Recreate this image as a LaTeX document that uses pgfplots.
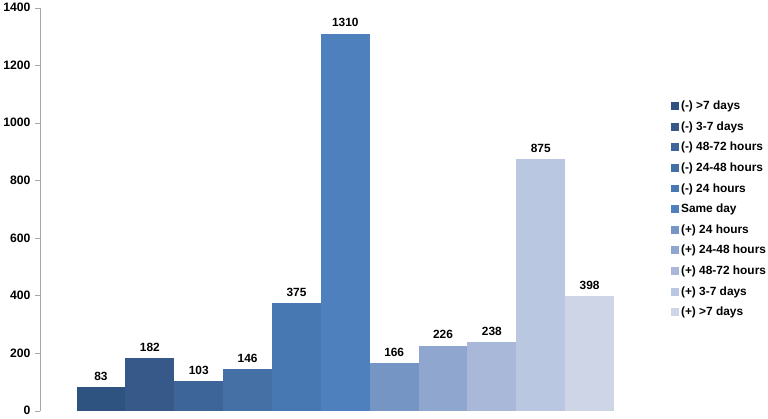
\documentclass[border=0pt]{standalone}
\usepackage{fontspec}
\setmainfont{Liberation Sans}
\usepackage{pgfplots}
\pgfplotsset{compat=1.18}

\definecolor{c1}{RGB}{47,83,128}
\definecolor{c2}{RGB}{54,89,138}
\definecolor{c3}{RGB}{61,101,154}
\definecolor{c4}{RGB}{68,112,166}
\definecolor{c5}{RGB}{72,120,178}
\definecolor{c6}{RGB}{78,128,189}
\definecolor{c7}{RGB}{117,150,197}
\definecolor{c8}{RGB}{143,166,207}
\definecolor{c9}{RGB}{169,184,216}
\definecolor{c10}{RGB}{186,199,224}
\definecolor{c11}{RGB}{205,213,230}

\pgfplotsset{
  onebar/.style={ybar, bar shift=0pt, bar width=1, draw=none, fill=#1},
}

\begin{document}
\begin{tikzpicture}
\begin{axis}[
  scale only axis,
  width=577bp, height=405bp,
  xmin=-1.25, xmax=10.5,
  ymin=0, ymax=1400,
  axis y line*=left,
  axis x line=none,
  ytick={0,200,...,1400},
  xtick=\empty,
  y axis line style={black!35},
  tick style={black!35},
  major tick length=5bp,
  ytick align=outside,
  /pgf/number format/assume math mode=true,
  /pgf/number format/1000 sep={},
  yticklabel style={font=\bfseries\fontsize{12.3}{14}\selectfont, xshift=-1bp},
  nodes near coords,
  nodes near coords style={font=\bfseries\fontsize{12}{14}\selectfont, yshift=3bp},
  legend style={at={(1.099,0.5)}, anchor=west, draw=none,
    font=\bfseries\fontsize{12}{14}\selectfont, row sep=6.6bp,
    inner sep=0pt},
  legend cell align=left,
  legend image code/.code={\fill[#1] (0bp,-4bp) rectangle (8bp,4bp);},
]
\addplot[onebar=c1] coordinates {(0,83)};
\addlegendentry{(-) >7 days}
\addplot[onebar=c2] coordinates {(1,182)};
\addlegendentry{(-) 3-7 days}
\addplot[onebar=c3] coordinates {(2,103)};
\addlegendentry{(-) 48-72 hours}
\addplot[onebar=c4] coordinates {(3,146)};
\addlegendentry{(-) 24-48 hours}
\addplot[onebar=c5] coordinates {(4,375)};
\addlegendentry{(-) 24 hours}
\addplot[onebar=c6] coordinates {(5,1310)};
\addlegendentry{Same day}
\addplot[onebar=c7] coordinates {(6,166)};
\addlegendentry{(+) 24 hours}
\addplot[onebar=c8] coordinates {(7,226)};
\addlegendentry{(+) 24-48 hours}
\addplot[onebar=c9] coordinates {(8,238)};
\addlegendentry{(+) 48-72 hours}
\addplot[onebar=c10] coordinates {(9,875)};
\addlegendentry{(+) 3-7 days}
\addplot[onebar=c11] coordinates {(10,398)};
\addlegendentry{(+) >7 days}
\end{axis}
\end{tikzpicture}
\end{document}
